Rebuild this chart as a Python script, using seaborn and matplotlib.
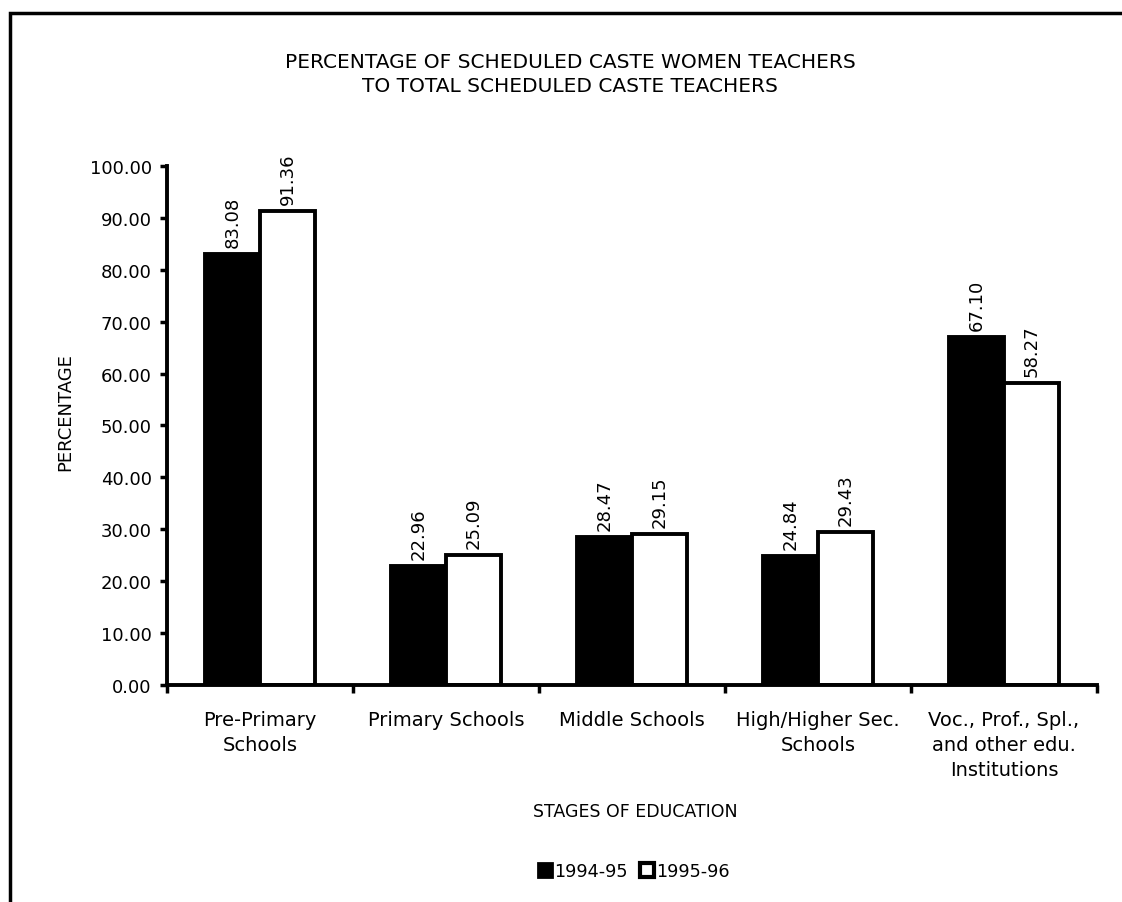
import numpy as np
import pandas as pd
import matplotlib
matplotlib.use("Agg")
import matplotlib.pyplot as plt
from matplotlib.patches import Rectangle, Patch
from matplotlib.ticker import FormatStrFormatter, FixedLocator
import seaborn as sns

# Daten
stages = ["Pre-Primary\nSchools", "Primary Schools", "Middle Schools",
          "High/Higher Sec.\nSchools", "Voc., Prof., Spl.,\nand other edu.\nInstitutions"]
years = ["1994-95", "1995-96"]
vals_9495 = [83.08, 22.96, 28.47, 24.84, 67.10]
vals_9596 = [91.36, 25.09, 29.15, 29.43, 58.27]

df = pd.DataFrame({
    "stage": stages * 2,
    "year": [years[0]] * len(stages) + [years[1]] * len(stages),
    "pct": vals_9495 + vals_9596,
})

sns.set_style("white")
plt.rcParams["font.family"] = ["DejaVu Sans"]
plt.rcParams["text.color"] = "black"
plt.rcParams["axes.labelcolor"] = "black"
plt.rcParams["xtick.color"] = "black"
plt.rcParams["ytick.color"] = "black"

fig = plt.figure(figsize=(11.22, 9.03), dpi=100)
ax = fig.add_axes([0.1488, 0.2403, 0.8289, 0.5748])

sns.barplot(data=df, x="stage", y="pct", hue="year", order=stages, hue_order=years,
            palette={"1994-95": "black", "1995-96": "white"},
            edgecolor="black", linewidth=2.8, width=0.59, saturation=1, ax=ax)

for cont in ax.containers:
    ax.bar_label(cont, fmt="%.2f", rotation=90, padding=5, fontsize=13, clip_on=False)

ax.set_xlim(-0.5, len(stages) - 0.5)
ax.set_ylim(0, 100)
ax.set_yticks(np.arange(0, 101, 10))
ax.yaxis.set_major_formatter(FormatStrFormatter("%.2f"))
ax.tick_params(axis="y", which="major", length=5, width=2.5, direction="out",
               labelsize=13, pad=6, left=True)
ax.tick_params(axis="x", which="major", length=0, labelsize=14, pad=18)
for lbl in ax.get_xticklabels():
    lbl.set_linespacing(1.4)
ax.xaxis.set_minor_locator(FixedLocator(np.arange(-0.5, len(stages), 1.0)))
ax.tick_params(axis="x", which="minor", length=6, width=2.5, direction="out", bottom=True)

for s in ["top", "right"]:
    ax.spines[s].set_visible(False)
for s in ["left", "bottom"]:
    ax.spines[s].set_linewidth(2.8)
    ax.spines[s].set_color("black")

ax.set_xlabel("")
ax.set_ylabel("")
fig.text(0.566, 0.1008, "STAGES OF EDUCATION", ha="center", va="center", fontsize=12.5)
fig.text(0.058, 0.544, "PERCENTAGE", ha="center", va="center", rotation=90, fontsize=13)

ax.get_legend().remove()
handles = [Patch(facecolor="black", edgecolor="black", linewidth=2),
           Patch(facecolor="white", edgecolor="black", linewidth=3)]
fig.legend(handles, years, loc="center", bbox_to_anchor=(0.565, 0.034), ncol=2,
           frameon=False, fontsize=12.7, handlelength=0.8, handleheight=0.8,
           handletextpad=0.1, columnspacing=0.7)

fig.text(0.508, 0.9175, "PERCENTAGE OF SCHEDULED CASTE WOMEN TEACHERS\nTO TOTAL SCHEDULED CASTE TEACHERS",
         ha="center", va="center", fontsize=14.5, linespacing=1.35)

# Rahmen um die Grafik
fig.add_artist(Rectangle((0.0093, -0.1), 1.5, 0.9845 + 0.1, transform=fig.transFigure,
                         fill=False, edgecolor="black", linewidth=2.5))

fig.savefig("out.png", dpi=100)
